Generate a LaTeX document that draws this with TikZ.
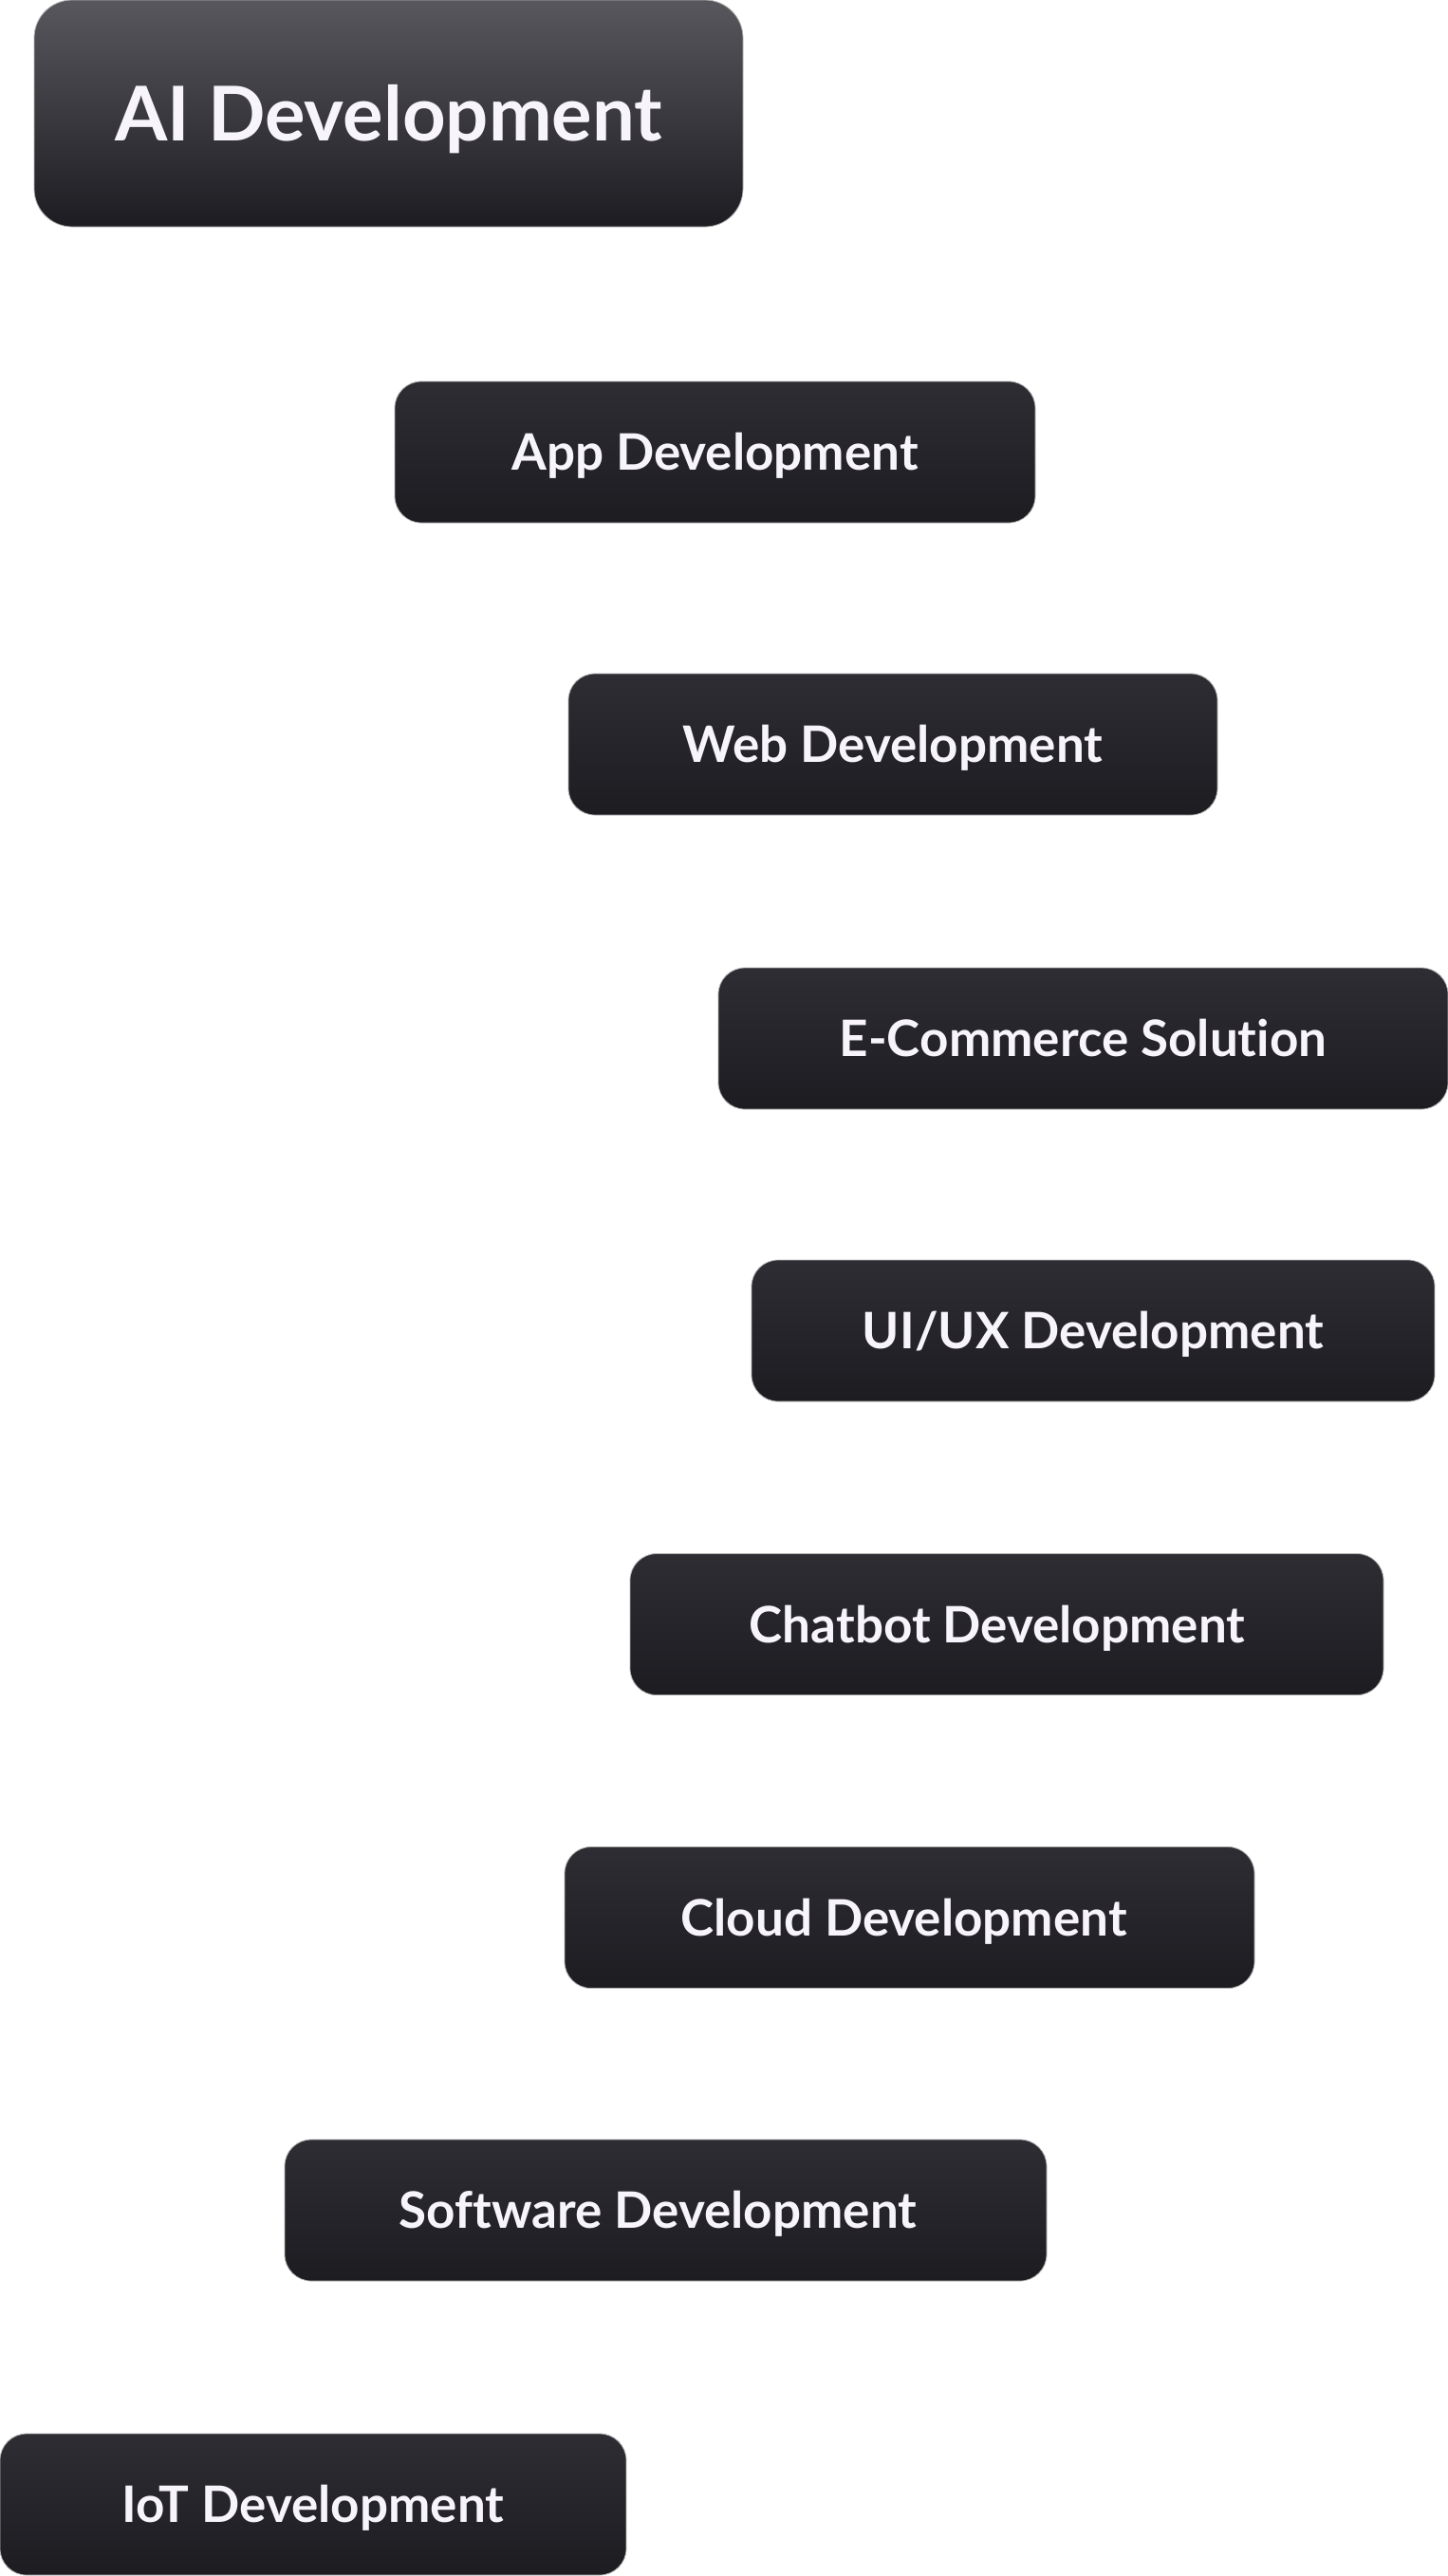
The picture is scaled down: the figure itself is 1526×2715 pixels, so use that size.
\documentclass[tikz,border=0pt]{standalone}
\usepackage{fontspec}
\setmainfont{Lato}[Ligatures=NoCommon]
\definecolor{boxtop}{HTML}{2E2D33}
\definecolor{boxmid}{HTML}{222126}
\definecolor{boxbot}{HTML}{1D1C21}
\definecolor{titletop}{HTML}{58575D}
\definecolor{boxtext}{HTML}{F7F5FB}
\begin{document}
\begin{tikzpicture}[x=0.5pt,y=-0.5pt,
    box/.style={rounded corners=14pt,inner sep=0pt,minimum height=74.5pt,
      top color=boxtop,middle color=boxmid,bottom color=boxbot,draw=black!30,line width=0.4pt,
      text=boxtext,font=\bfseries\fontsize{26.5}{30}\selectfont,
      text height=19pt,text depth=0pt},
    titlebox/.style={box,rounded corners=20pt,minimum height=119.5pt,
      top color=titletop,bottom color=boxbot,font=\bfseries\fontsize{39.8}{44}\selectfont,
      text height=28.5pt}]
    \useasboundingbox (0,0) rectangle (1526,2715);
    \node[titlebox,minimum width=373.5pt] (ai) at (409.5,119.5) {AI Development};
    \node[box,minimum width=337.5pt] (app) at (753.5,476.5) {App Development};
    \node[box,minimum width=342pt] (web) at (941,784.5) {Web Development};
    \node[box,minimum width=384.5pt] (ecom) at (1141.5,1094.5) {E-Commerce Solution};
    \node[box,minimum width=360pt] (uiux) at (1152,1402.5) {UI/UX Development};
    \node[box,minimum width=397pt] (chat) at (1061,1712) {Chatbot Development\kern10pt};
    \node[box,minimum width=363.5pt] (cloud) at (958.5,2021) {Cloud Development\kern6pt};
    \node[box,minimum width=401.5pt] (soft) at (701.5,2329.5) {Software Development\kern8pt};
    \node[box,minimum width=330pt] (iot) at (330,2639.5) {IoT Development};
  \end{tikzpicture}
\end{document}
